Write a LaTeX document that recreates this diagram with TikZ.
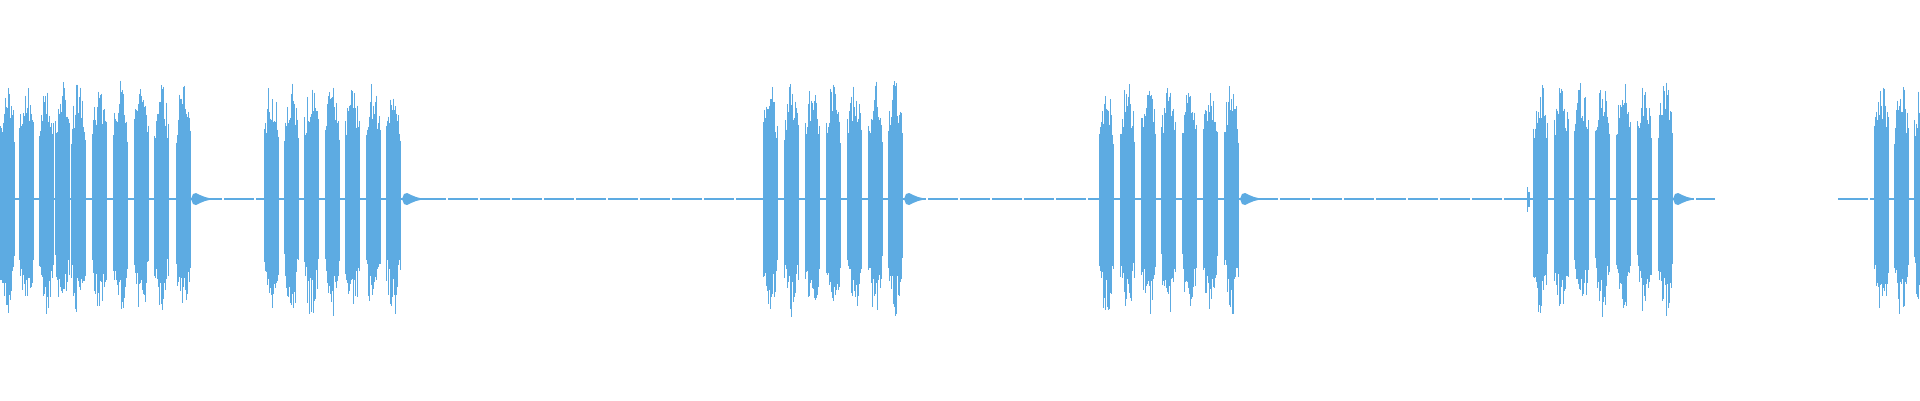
\documentclass[tikz,border=0pt]{standalone}
\definecolor{wave}{RGB}{93,171,226}
\begin{document}
\begin{tikzpicture}[x=1pt,y=1pt,wavecol/.style={draw=wave,line width=1.4pt},base/.style={draw=wave,line width=1.3pt,dash pattern=on 30pt off 2pt}]
\useasboundingbox (0,0) rectangle (1920,400);
\pgfmathsetseed{11}
% baselines
\draw[base] (0,201) -- (1715,201);
\draw[base] (1838,201) -- (1920,201);
% pulses
\foreach \s in {0,19,39,55,71,92,113,134,154,176,
  264,284,304,325,345,366,386,
  763,784,805,826,847,868,888,
  1099,1120,1141,1161,1182,1203,1224,
  1533,1554,1574,1595,1616,1637,1658,
  1874,1894,1914}{
  \foreach \t in {0,...,14}{
    \pgfmathsetmacro\env{72+38*sin(180*(\t+0.5)/15)}
    \pgfmathsetmacro\au{\env*(0.72+0.36*rnd)}
    \pgfmathsetmacro\ad{\env*(0.72+0.36*rnd)}
    \draw[wavecol] (\s+\t+0.5,201+\au) -- (\s+\t+0.5,201-\ad);
  }
  \draw[wavecol,line width=2pt] (\s+14,201) -- (\s+21,201);
}
% tails after bursts
\foreach \e in {191,402,904,1240,1673}{
  \fill[fill=wave] (\e,201) -- (\e+2,206) -- (\e+5,207) -- (\e+9,205) -- (\e+14,203) -- (\e+20,201.5)
     -- (\e+20,200.5) -- (\e+14,199) -- (\e+9,197) -- (\e+5,195) -- (\e+2,196) -- cycle;
}
% small precursor spike
\draw[wavecol] (1527.5,213) -- (1527.5,188);
\draw[wavecol] (1529,208) -- (1529,193);
\end{tikzpicture}
\end{document}
